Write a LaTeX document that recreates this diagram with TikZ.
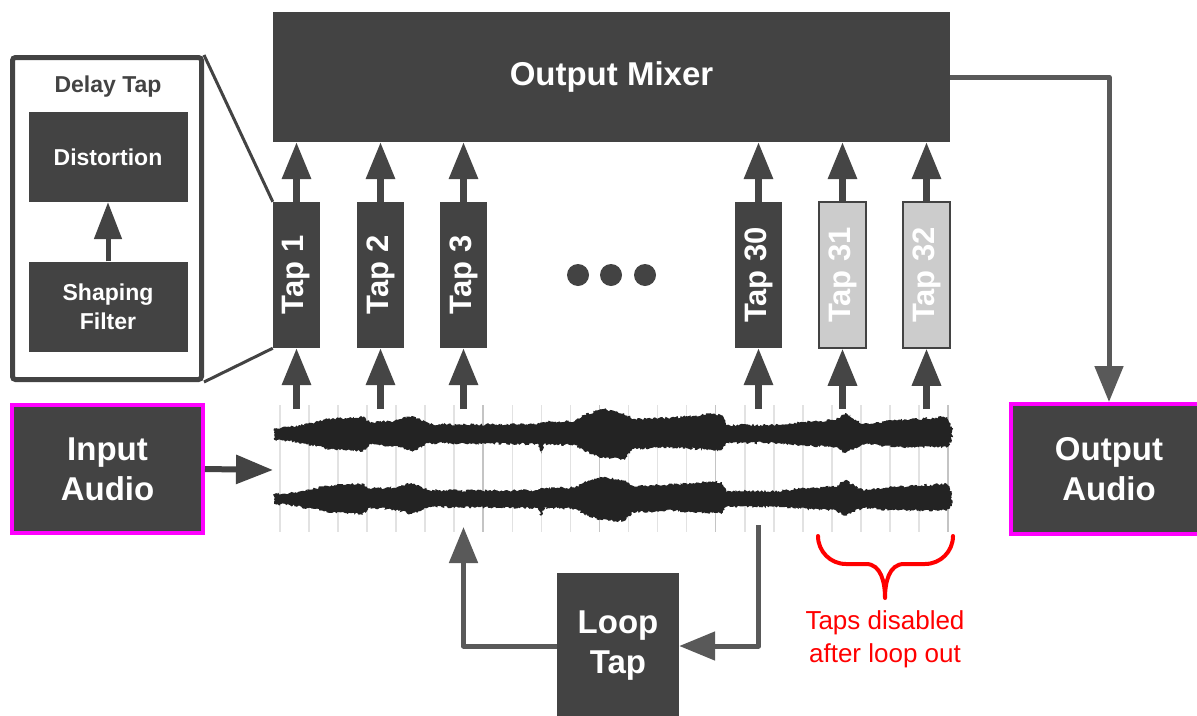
\documentclass[tikz,border=0pt]{standalone}
\usepackage{fontspec}
\setmainfont{Liberation Sans}
\usetikzlibrary{arrows.meta,decorations.pathmorphing}
\definecolor{dk}{HTML}{434343}
\definecolor{ar}{HTML}{454545}
\definecolor{cn}{HTML}{595959}
\definecolor{lg}{HTML}{CCCCCC}
\definecolor{mg}{HTML}{FF00FF}
\definecolor{gridc}{HTML}{E2E2E2}
\definecolor{gridd}{HTML}{C4C4C4}
\definecolor{wavec}{HTML}{232323}
\def\envtop{290/7, 312/11, 327.5/15, 345/16, 363/17.5, 369.5/12, 394/13, 411.6/18, 429/10, 460/9.5, 491/9.5, 535.5/10, 544/12, 575/13, 584/19, 602/25, 624/21, 633/15, 668/16, 712.5/20, 722/19, 726/9, 779/9, 801/12, 836/14, 845/21, 863/10, 898/14, 947/17}
\def\envbot{947/13, 898/13, 863/10, 845/19, 836/13, 801/11, 779/9, 726/9, 722/16, 712.5/16, 668/13, 633/15, 624/25, 602/24, 584/17, 575/11, 544/10, 541/19, 538/10, 535.5/10, 491/9.5, 460/9.5, 429/9, 411.6/17, 394/12, 369.5/10, 363/17.5, 345/16, 327.5/15, 312/11, 290/7}
\newcommand{\wavechan}[2]{%
  \fill[wavec, decorate, decoration={random steps, segment length=1.4pt, amplitude=1.3pt}]
    (274,{#1-#2*5.5}) foreach \x/\u in \envtop {-- (\x,{#1-#2*\u})} -- (952,{#1-#2*6})
    -- (952,{#1+#2*6}) foreach \x/\d in \envbot {-- (\x,{#1+#2*\d})} -- (274,{#1+#2*5.5}) -- cycle;}
\begin{document}
\begin{tikzpicture}[x=1pt,y=-1pt,
  blk/.style={fill=dk,inner sep=0pt,text=white,align=center},
  bigtxt/.style={font=\fontsize{33}{40}\selectfont\bfseries},
  midtxt/.style={font=\fontsize{23}{29}\selectfont\bfseries},
  tapbox/.style={blk,minimum width=47pt,minimum height=146pt,font=\fontsize{31}{31}\selectfont\bfseries},
  offtap/.style={tapbox,fill=lg,draw=dk,line width=1.5pt},
  tarr/.style={draw=ar,line width=6.5pt,-{Triangle[length=37pt,width=28pt]}},
  darr/.style={draw=dk,line width=5pt,-{Triangle[length=37pt,width=27pt]}},
  iarr/.style={draw=dk,line width=6pt,-{Triangle[length=37pt,width=28pt]}},
  conn/.style={draw=cn,line width=5pt,line join=round,-{Triangle[length=36pt,width=28pt]}},
  magbox/.style={blk,bigtxt,draw=mg,line width=4pt},
  dotc/.style={circle,fill=dk,inner sep=0pt,minimum size=22pt}]
\useasboundingbox (0,0) rectangle (1197,715);
\fill[white] (0,0) rectangle (1197,715);

% waveform grid
\foreach \k in {0,...,23}{
  \pgfmathsetmacro{\gx}{279.8+29.06*\k}
  \draw[gridc,line width=1.5pt] (\gx,405) -- (\gx,532);}
\foreach \k in {7,11,15,23}{
  \pgfmathsetmacro{\gx}{279.8+29.06*\k}
  \draw[gridd,line width=1.5pt] (\gx,405) -- (\gx,532);}
% waveform
\pgfmathsetseed{11}
\wavechan{434}{1}
\wavechan{499}{0.88}

% nodes
\node[blk,bigtxt,minimum width=677pt,minimum height=130pt] (mix) at (611.5,77) {Output Mixer};

\node[draw=dk,line width=5pt,rounded corners=3pt,inner sep=0pt,minimum width=189pt,minimum height=322pt] (panel) at (107,218.5) {};
\node[text=dk,midtxt] (dtitle) at (108,87) {Delay Tap};
\node[blk,midtxt,minimum width=159pt,minimum height=90pt] (dist) at (108,157) {Distortion};
\node[blk,midtxt,minimum width=159pt,minimum height=90pt] (shp) at (108,306.5) {Shaping\\Filter};

\node[tapbox] (t1) at (296.5,275) {\rotatebox{90}{Tap 1}};
\node[tapbox] (t2) at (380.5,275) {\rotatebox{90}{Tap 2}};
\node[tapbox] (t3) at (463.5,275) {\rotatebox{90}{Tap 3}};
\node[tapbox] (t30) at (758.5,275) {\rotatebox{90}{Tap 30}};
\node[offtap] (t31) at (842.5,275) {\rotatebox{90}{Tap 31}};
\node[offtap] (t32) at (926.5,275) {\rotatebox{90}{Tap 32}};

\node[dotc] (d1) at (578,275) {};
\node[dotc] (d2) at (611,275) {};
\node[dotc] (d3) at (645,275) {};

\node[magbox,minimum width=191pt,minimum height=128pt] (in) at (107.5,469) {Input\\Audio};
\node[magbox,minimum width=196pt,minimum height=130pt] (out) at (1109,469) {Output\\Audio};
\node[blk,bigtxt,minimum width=122pt,minimum height=146pt] (loop) at (618,646) {Loop\\Tap};

\coordinate (wt) at (0,409);
\coordinate (win) at (273,470);
\coordinate (loopout) at (758.5,525);
\coordinate (loopin) at (463.5,527);

% zoom lines
\draw[dk,line width=3pt] (panel.north east) -- (t1.north west);
\draw[dk,line width=3pt] (panel.south east) -- (t1.south west);

% arrows
\draw[darr] (shp.north) -- (dist.south);
\foreach \t in {t1,t2,t3,t30,t31,t32}{
  \draw[tarr] (\t.north) -- (\t.north |- mix.south);
  \draw[tarr] (\t.south |- wt) -- (\t.south);}
\draw[iarr] (in.east) -- (win);
\draw[conn] (mix.east) -| (out.north);
\draw[conn] (loopout) |- (loop.east);
\draw[conn] (loop.west) -| (loopin);

% brace
\draw[red,line width=4pt,line cap=round,line join=round]
  (818,536) to[out=-90,in=180] (846,564) -- (866,564) to[out=0,in=90] (885,598)
  (885,598) to[out=90,in=180] (904,564) -- (925,564) to[out=0,in=-90] (953,536);
\node[text=red,align=center,font=\fontsize{26}{33}\selectfont] (note) at (885,639) {Taps disabled\\after loop out};
\end{tikzpicture}
\end{document}
